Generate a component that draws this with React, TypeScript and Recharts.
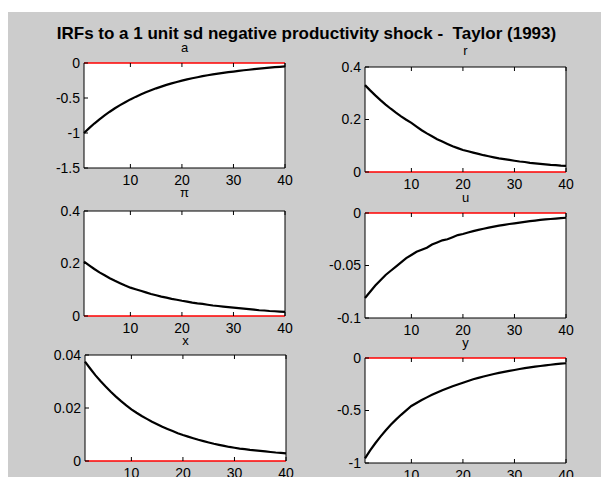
import React from 'react';
import { LineChart, Line, XAxis, YAxis, CartesianGrid, ReferenceLine } from 'recharts';

// periods 1..40 of the impulse responses
const periods = [
  1, 2, 3, 4, 5, 6, 7, 8, 9, 10, 11, 12, 13, 14, 15, 16, 17, 18, 19, 20,
  21, 22, 23, 24, 25, 26, 27, 28, 29, 30, 31, 32, 33, 34, 35, 36, 37, 38, 39, 40,
];

const aValues = [
  -1.0, -0.93, -0.865, -0.804, -0.748, -0.696, -0.647, -0.602, -0.56, -0.52,
  -0.484, -0.45, -0.419, -0.389, -0.362, -0.337, -0.313, -0.291, -0.271, -0.252,
  -0.234, -0.218, -0.203, -0.188, -0.175, -0.163, -0.152, -0.141, -0.131, -0.122,
  -0.112, -0.104, -0.096, -0.088, -0.081, -0.074, -0.067, -0.06, -0.054, -0.048,
];
const rValues = [
  0.331, 0.311, 0.292, 0.274, 0.257, 0.241, 0.226, 0.212, 0.199, 0.187,
  0.173, 0.159, 0.147, 0.136, 0.125, 0.116, 0.107, 0.098, 0.091, 0.084,
  0.079, 0.074, 0.069, 0.064, 0.06, 0.056, 0.052, 0.049, 0.046, 0.043,
  0.04, 0.038, 0.035, 0.033, 0.031, 0.029, 0.027, 0.026, 0.024, 0.023,
];
const piValues = [
  0.207, 0.193, 0.179, 0.166, 0.155, 0.144, 0.134, 0.125, 0.116, 0.108,
  0.102, 0.096, 0.09, 0.084, 0.079, 0.074, 0.07, 0.065, 0.062, 0.058,
  0.055, 0.051, 0.048, 0.046, 0.043, 0.04, 0.038, 0.036, 0.034, 0.032,
  0.03, 0.028, 0.026, 0.024, 0.022, 0.021, 0.019, 0.018, 0.017, 0.016,
];
const uValues = [
  -0.081, -0.075, -0.069, -0.064, -0.059, -0.055, -0.051, -0.047, -0.043, -0.04,
  -0.037, -0.035, -0.033, -0.03, -0.028, -0.026, -0.025, -0.023, -0.021, -0.02,
  -0.0186, -0.0173, -0.0161, -0.015, -0.014, -0.013, -0.0121, -0.0113, -0.0105, -0.0098,
  -0.0091, -0.0084, -0.0078, -0.0072, -0.0066, -0.0061, -0.0057, -0.0053, -0.0049, -0.0045,
];
const xValues = [
  0.0375, 0.0349, 0.0324, 0.0302, 0.0281, 0.0261, 0.0243, 0.0226, 0.021, 0.0195,
  0.0182, 0.017, 0.0159, 0.0148, 0.0139, 0.0129, 0.0121, 0.0113, 0.0105, 0.0098,
  0.0092, 0.0086, 0.008, 0.0075, 0.007, 0.0065, 0.0061, 0.0057, 0.0053, 0.005,
  0.0047, 0.0045, 0.0042, 0.004, 0.0038, 0.0036, 0.0034, 0.0032, 0.0031, 0.0029,
];
const yValues = [
  -0.955, -0.88, -0.812, -0.749, -0.69, -0.636, -0.587, -0.541, -0.499, -0.457,
  -0.428, -0.4, -0.375, -0.351, -0.328, -0.307, -0.288, -0.269, -0.252, -0.235,
  -0.219, -0.203, -0.189, -0.176, -0.164, -0.152, -0.142, -0.132, -0.122, -0.114,
  -0.105, -0.097, -0.089, -0.082, -0.076, -0.07, -0.064, -0.059, -0.054, -0.05,
];

const xTicks = [10, 20, 30, 40];
const aTicks = [-1.5, -1, -0.5, 0];
const rTicks = [0, 0.2, 0.4];
const piTicks = [0, 0.2, 0.4];
const uTicks = [-0.1, -0.05, 0];
const xSeriesTicks = [0, 0.02, 0.04];
const ySeriesTicks = [-1, -0.5, 0];

const mainTitle = 'IRFs to a 1 unit sd negative productivity shock -  Taylor (1993)';

const data = periods.map((t, i) => ({
  t,
  a: aValues[i],
  r: rValues[i],
  pi: piValues[i],
  u: uValues[i],
  x: xValues[i],
  y: yValues[i],
}));

const FONT = '"Liberation Sans", Arial, Helvetica, sans-serif';

// box = plot frame in page pixels [left, top, right, bottom]
const panels = [
  { key: 'a', title: 'a', ticks: aTicks, box: [84, 63, 285, 168], titleBase: 51.5 },
  { key: 'r', title: 'r', ticks: rTicks, box: [365, 67, 566, 172], titleBase: 55 },
  { key: 'pi', title: 'π', ticks: piTicks, box: [84, 211, 285, 316], titleBase: 197 },
  { key: 'u', title: 'u', ticks: uTicks, box: [365, 213, 566, 318], titleBase: 201.5 },
  { key: 'x', title: 'x', ticks: xSeriesTicks, box: [85, 355, 286, 461], titleBase: 344.5 },
  { key: 'y', title: 'y', ticks: ySeriesTicks, box: [365, 358, 566, 463], titleBase: 347 },
];

const Y_AXIS_W = 50;
const X_AXIS_H = 30;
const M_TOP = 10;
const M_RIGHT = 14;

const tickStyle = { fill: '#000', fontSize: 14, fontFamily: FONT };
const blank = () => <g />;
const frame = { stroke: '#000' };

function Panel({ p }: { p: typeof panels[number] }) {
  const [x0, y0, x1, y1] = p.box;
  const w = x1 - x0 + Y_AXIS_W + M_RIGHT + 1;
  const h = y1 - y0 + X_AXIS_H + M_TOP + 1;
  const lo = p.ticks[0];
  const hi = p.ticks[p.ticks.length - 1];
  // the red zero line replaces the frame on the side where zero sits
  const zeroTop = hi === 0;
  const zeroBottom = lo === 0;
  return (
    <>
      <div
        style={{
          position: 'absolute',
          left: x0,
          width: x1 - x0,
          top: p.titleBase - 11,
          textAlign: 'center',
          fontFamily: FONT,
          fontSize: 13,
          lineHeight: '13px',
          color: '#000',
        }}
      >
        {p.title}
      </div>
      <div style={{ position: 'absolute', left: x0 - Y_AXIS_W, top: y0 - M_TOP - 1 }}>
        <LineChart
          width={w}
          height={h}
          data={data}
          margin={{ top: M_TOP, right: M_RIGHT, left: 0, bottom: 0 }}
        >
          <CartesianGrid horizontal={false} vertical={false} fill="#fff" fillOpacity={1} />
          <XAxis
            xAxisId="b"
            dataKey="t"
            type="number"
            domain={[1, 40]}
            ticks={xTicks}
            interval={0}
            height={X_AXIS_H}
            tickSize={-4}
            tickMargin={11}
            tick={tickStyle}
            axisLine={zeroBottom ? false : frame}
            tickLine={frame}
          />
          <XAxis
            xAxisId="t"
            orientation="top"
            dataKey="t"
            type="number"
            domain={[1, 40]}
            ticks={xTicks}
            interval={0}
            height={1}
            tickSize={-4}
            tick={blank}
            axisLine={zeroTop ? false : frame}
            tickLine={frame}
          />
          <YAxis
            yAxisId="l"
            type="number"
            domain={[lo, hi]}
            ticks={p.ticks}
            interval={0}
            width={Y_AXIS_W}
            tickSize={-4}
            tickMargin={8}
            tick={tickStyle}
            axisLine={frame}
            tickLine={frame}
          />
          <YAxis
            yAxisId="rr"
            orientation="right"
            type="number"
            domain={[lo, hi]}
            ticks={p.ticks}
            interval={0}
            width={1}
            tickSize={-4}
            tick={blank}
            axisLine={frame}
            tickLine={frame}
          />
          <Line
            xAxisId="b"
            yAxisId="l"
            type="linear"
            dataKey={p.key}
            stroke="#000"
            strokeWidth={2.2}
            dot={false}
            isAnimationActive={false}
          />
          <ReferenceLine xAxisId="b" yAxisId="l" y={0} stroke="#ff0000" strokeWidth={1.5} />
        </LineChart>
      </div>
    </>
  );
}

export default function App() {
  return (
    <div
      style={{
        position: 'fixed',
        left: 0,
        top: 0,
        width: 613,
        height: 477,
        overflow: 'hidden',
        background: '#fff',
      }}
    >
      <div
        style={{
          position: 'absolute',
          left: 8,
          top: 12,
          width: 593,
          height: 465,
          background: '#cccccc',
        }}
      />
      <div
        style={{
          position: 'absolute',
          left: 0,
          width: 613,
          top: 24.5,
          textAlign: 'center',
          fontFamily: FONT,
          fontWeight: 'bold',
          fontSize: 17,
          lineHeight: '17px',
          color: '#000',
          whiteSpace: 'pre',
        }}
      >
        {mainTitle}
      </div>
      {panels.map((p) => (
        <Panel key={p.key} p={p} />
      ))}
    </div>
  );
}
